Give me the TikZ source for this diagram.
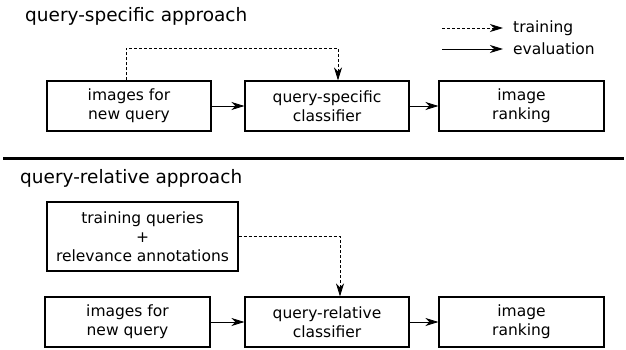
\documentclass[tikz,border=0pt]{standalone}
\usepackage{fontspec}
\setmainfont{DejaVu Sans}
\usetikzlibrary{arrows.meta}
\tikzset{
  stagebox/.style={draw, line width=1.1pt, minimum width=164pt, minimum height=50pt,
    align=center, inner sep=0pt, font=\fontsize{15.5}{19}\selectfont},
  eval/.style={line width=0.9pt, -{Stealth[length=13pt,width=8pt,inset=4pt]}},
  train/.style={eval, dash pattern=on 3pt off 2pt},
  legendtext/.style={anchor=west, inner sep=3pt, font=\fontsize{15.5}{19}\selectfont},
  heading/.style={anchor=base west, inner sep=0pt, font=\fontsize{18.5}{22}\selectfont}
}
\begin{document}
\begin{tikzpicture}[x=1pt,y=-1pt]
		\useasboundingbox (0,0) rectangle (626,350);
		% query-specific approach
		\node[heading] (spectitle) at (25,22) {query-specific approach};
		\node[stagebox] (simg) at (129,106) {images for\\new query};
		\node[stagebox] (sclf) at (327,106) {query-specific\\classifier};
		\node[stagebox, minimum width=165pt] (srank) at (521.5,106) {image\\ranking};
		\draw[eval] (simg) -- (sclf);
		\draw[eval] (sclf) -- (srank);
		\draw[train] ([xshift=-3pt]simg.north) -- ++(0,-32) -| ([xshift=11pt]sclf.north);
		% legend
		\coordinate (trs) at (442,28);
		\coordinate (evs) at (442,49);
		\node[legendtext] (trl) at (510,28) {training};
		\node[legendtext] (evl) at (510,49) {evaluation};
		\draw[train] (trs) -- ([xshift=-7pt]trl.west);
		\draw[eval] (evs) -- ([xshift=-7pt]evl.west);
		% separator
		\draw[line width=3pt] (3,158) -- (624,158);
		% query-relative approach
		\node[heading] (reltitle) at (20,183) {query-relative approach};
		\node[stagebox, minimum width=191pt, minimum height=69pt] (tq) at (142.5,236.5) {training queries\\+\\relevance annotations};
		\node[stagebox, minimum width=165pt] (rimg) at (127.5,322) {images for\\new query};
		\node[stagebox] (rclf) at (327,322) {query-relative\\classifier};
		\node[stagebox, minimum width=165pt] (rrank) at (521.5,322) {image\\ranking};
		\draw[eval] (rimg) -- (rclf);
		\draw[eval] (rclf) -- (rrank);
		\draw[train] (tq.east) -| ([xshift=13pt]rclf.north);
	    \end{tikzpicture}
\end{document}
